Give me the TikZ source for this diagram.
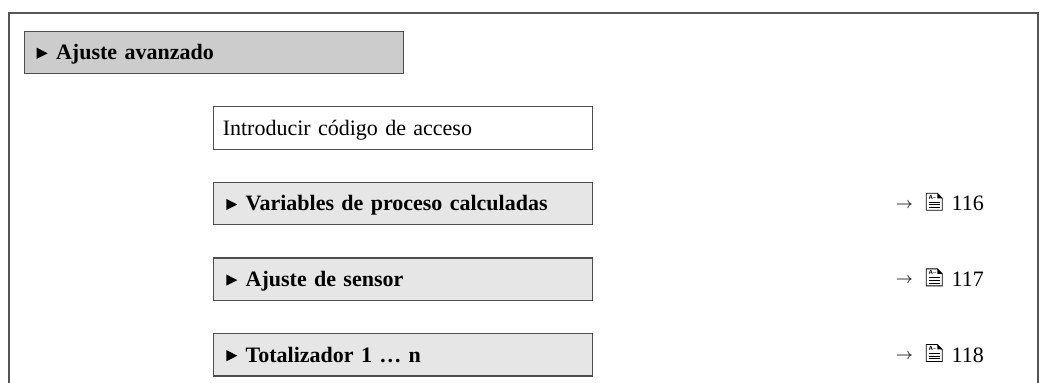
\documentclass[tikz,border=0pt]{standalone}
\usepackage{fontspec}
\setmainfont{Liberation Serif}
\usetikzlibrary{positioning}
\definecolor{hdgray}{HTML}{CCCCCC}
\definecolor{subgray}{HTML}{E6E6E6}
\definecolor{edgegray}{HTML}{4D4D4D}
\definecolor{framegray}{HTML}{555555}
\newcommand{\tri}{\tikz[baseline=0pt]\fill (0,0.4pt)--(5.5pt,3.2pt)--(0,6pt)--cycle;\hspace{4.2pt}}
\newcommand{\docicon}{\tikz[baseline=-0.3pt,line width=0.45pt]{%
  \draw (0,0)--(8pt,0)--(8pt,6pt)--(5.5pt,8.5pt)--(0,8.5pt)--cycle;
  \fill (5.5pt,8.5pt)--(8pt,6pt)--(5.5pt,6pt)--cycle;
  \foreach \yy in {1.3pt,2.7pt,4.1pt} \draw[line width=0.4pt] (1.2pt,\yy)--(6.8pt,\yy);
  \node[font=\fontsize{3pt}{3pt}\selectfont\sffamily\bfseries,inner sep=0pt,text height=2.2pt,text depth=0pt,minimum size=0pt,anchor=north west] (ic) at (0.9pt,7.9pt) {A--};}}
\newcommand{\seepage}[1]{\raisebox{1.3pt}{\fontsize{8.5pt}{8.5pt}\selectfont$\rightarrow$}\hspace{6.5pt}\docicon\hspace{4.5pt}#1}

\begin{document}
\begin{tikzpicture}[node distance=16pt,
  box/.style={draw=edgegray,line width=0.6pt,text width=177pt,minimum height=21.2pt,inner xsep=6.25pt,text height=7.3pt,text depth=0pt,align=left,anchor=north west,font=\fontsize{11pt}{13pt}\selectfont},
  menu/.style={box,font=\fontsize{11pt}{13pt}\selectfont\bfseries},
  ref/.style={inner sep=0pt,text height=7.3pt,text depth=0pt,font=\fontsize{11pt}{13pt}\selectfont},
  frame/.style={draw=framegray,line width=1pt}]
\useasboundingbox (0,0) rectangle (521.5pt,-191.5pt);
\draw[frame] (4.5pt,-191.5pt) |- (518.75pt,-6.75pt) -- (518.75pt,-191.5pt);
\node[menu,fill=hdgray] (head) at (11.8pt,-15.3pt) {\tri Ajuste avanzado};
\node[box,inner xsep=4.5pt,text width=180.5pt,below=of head.south west,anchor=north west,xshift=94.8pt] (code) {Introducir código de acceso};
\node[menu,fill=subgray,below=of code.south west,anchor=north west] (calc) {\tri Variables de proceso calculadas};
\node[menu,fill=subgray,below=of calc.south west,anchor=north west] (sens) {\tri Ajuste de sensor};
\node[menu,fill=subgray,below=of sens.south west,anchor=north west] (tot) {\tri Totalizador 1 … n};
\node[ref,right=151pt of calc] (calcref) {\seepage{116}};
\node[ref,right=151pt of sens] (sensref) {\seepage{117}};
\node[ref,right=151pt of tot] (totref) {\seepage{118}};
\end{tikzpicture}
\end{document}
